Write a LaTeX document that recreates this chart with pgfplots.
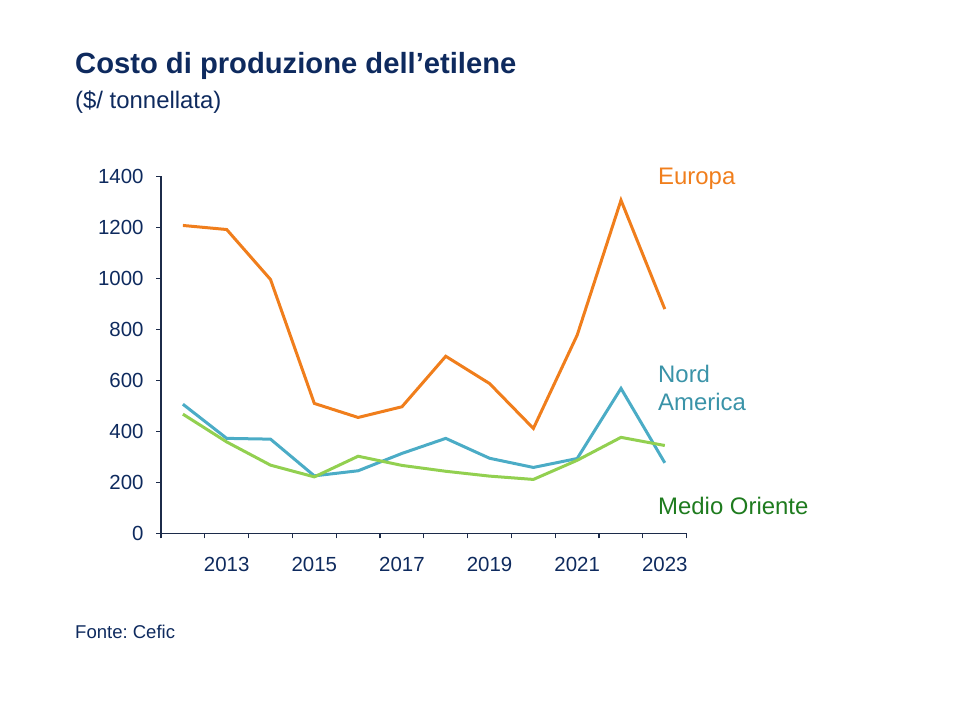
\documentclass[border=0pt]{standalone}
\usepackage{pgfplots}
\pgfplotsset{compat=1.18}
\usepackage{fontspec}
\setmainfont{Liberation Sans}
\frenchspacing
\definecolor{navy}{HTML}{0E2A5E}
\definecolor{axisc}{HTML}{1C2B4A}
\definecolor{eur}{HTML}{F07E1C}
\definecolor{nam}{HTML}{4BACC6}
\definecolor{namtxt}{HTML}{3A93A8}
\definecolor{mo}{HTML}{92D050}
\definecolor{motxt}{HTML}{1E7B1E}
\begin{document}
\begin{tikzpicture}[x=1bp,y=1bp]
\path (0,0) rectangle (960,720);
\begin{axis}[
  at={(161bp,186.5bp)}, anchor=south west,
  scale only axis, width=525.7bp, height=357bp,
  xmin=2011.5, xmax=2023.5, ymin=0, ymax=1400,
  axis lines=left,
  axis line style={-, axisc, line width=1.2bp},
  tick style={axisc, line width=1.2bp},
  xtick={2013,2015,...,2023},
  minor xtick={2011.5,2012.5,...,2023.5},
  ytick={0,200,...,1400},
  major tick length=5bp, minor tick length=5bp, tick align=outside,
  major x tick style={draw=none},
  /pgf/number format/1000 sep={},
  /pgf/number format/assume math mode=true,
  tick label style={font=\fontsize{20.5}{24}\selectfont, text=navy},
  yticklabel style={xshift=-9bp},
  xticklabel style={yshift=-15bp},
  clip=false,
]
\addplot[eur, line width=3bp] coordinates {
(2012,1208) (2013,1192) (2014,996) (2015,510) (2016,455) (2017,497)
(2018,695) (2019,588) (2020,412) (2021,778) (2022,1307) (2023,880)};
\addplot[nam, line width=3bp] coordinates {
(2012,507) (2013,373) (2014,370) (2015,226) (2016,246) (2017,314)
(2018,373) (2019,295) (2020,259) (2021,294) (2022,569) (2023,277)};
\addplot[mo, line width=3bp] coordinates {
(2012,468) (2013,359) (2014,268) (2015,222) (2016,303) (2017,267)
(2018,244) (2019,225) (2020,212) (2021,287) (2022,377) (2023,345)};
\end{axis}
\node[anchor=base west, inner sep=0, text=navy, font=\fontsize{29.3}{34}\selectfont\bfseries] at (75,646.5) {Costo di produzione dell’etilene};
\node[anchor=base west, inner sep=0, text=navy, font=\fontsize{24}{28}\selectfont] at (75,611) {(\$/ tonnellata)};
\node[anchor=base west, inner sep=0, text=eur, font=\fontsize{24}{28}\selectfont] at (658,535.5) {Europa};
\node[anchor=base west, inner sep=0, text=namtxt, font=\fontsize{24}{28}\selectfont] at (658,337.5) {Nord};
\node[anchor=base west, inner sep=0, text=namtxt, font=\fontsize{24}{28}\selectfont] at (658,309.5) {America};
\node[anchor=base west, inner sep=0, text=motxt, font=\fontsize{24}{28}\selectfont] at (658,205.5) {Medio Oriente};
\node[anchor=base west, inner sep=0, text=navy, font=\fontsize{18.6}{22}\selectfont] at (75,81.7) {Fonte: Cefic};
\end{tikzpicture}
\end{document}
